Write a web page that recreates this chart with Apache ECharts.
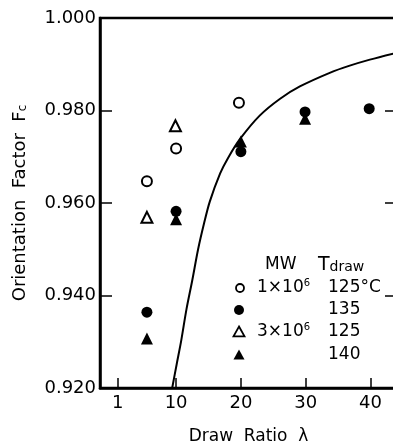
<!DOCTYPE html>
<html><head><meta charset="utf-8">
<script src="https://cdn.jsdelivr.net/npm/echarts@6/dist/echarts.min.js"></script>
<style>html,body{margin:0;padding:0;background:#fff}#c{width:393px;height:447px}</style>
</head><body><div id="c"></div>
<script>
// Data
const xTicks = [1, 10, 20, 30, 40];
const yTicks = [0.92, 0.94, 0.96, 0.98, 1.0];
const mw1e6_125 = [[5.5, 0.9647], [10, 0.9718], [19.7, 0.9817]];           // open circles
const mw1e6_135 = [[5.5, 0.9364], [10, 0.9582], [20, 0.9711], [29.9, 0.9797], [39.8, 0.9804]]; // filled circles
const mw3e6_125 = [[5.5, 0.9569], [9.9, 0.9767]];                          // open triangles
const mw3e6_140 = [[5.5, 0.9307], [10, 0.9565], [20, 0.9733], [29.9, 0.9782]]; // filled triangles
const curveX = [9.4, 10.1, 10.8, 11.6, 12.5, 13.4, 14.3, 15.2, 16.8, 18.0, 19.9, 22.9, 26.0, 29.1, 33.8, 36.8, 39.9, 43.5, 44.2];
const curveY = [0.920, 0.9252, 0.9303, 0.9370, 0.9433, 0.9500, 0.9555, 0.9603, 0.9664, 0.9697, 0.9739, 0.9789, 0.9825, 0.9852, 0.9882, 0.9897, 0.9910, 0.9923, 0.9925];

const FONT = 'DejaVu Sans';
const chart = echarts.init(document.getElementById('c'), null, {renderer: 'canvas'});
const ink = '#000';

function sym(x, y, type) {
  const open = type === 'circleOpen' || type === 'triOpen';
  const style = {fill: open ? '#fff' : ink, stroke: ink, lineWidth: open ? 1.8 : 0};
  if (type.startsWith('circle')) return {type: 'circle', shape: {cx: x, cy: y, r: open ? 4 : 5}, style};
  const h = 5.5;
  return {type: 'polygon', shape: {points: [[x, y - h], [x + h, y + h * 0.8], [x - h, y + h * 0.8]]}, style};
}
function txt(x, y, text, size, rich) {
  return {type: 'text', x: x, y: y, style: {text: text, fontFamily: FONT, fontSize: size, fill: ink, verticalAlign: 'middle', align: 'left', rich: rich || {}}};
}
const supRich = {n: {fontFamily: FONT, fontSize: 17, fill: ink}, s: {fontFamily: FONT, fontSize: 10, fill: ink, verticalAlign: 'top', padding: [0, 0, 10, 0]}};

chart.setOption({
  animation: false,
  backgroundColor: '#fff',
  grid: {left: 100, top: 18, width: 297, height: 370, outerBoundsMode: 'none', containLabel: false,
         show: true, borderColor: ink, borderWidth: 2.5, backgroundColor: 'transparent'},
  xAxis: {
    type: 'value', min: -1.74, max: 44.09,
    name: 'Draw  Ratio  λ', nameLocation: 'middle', nameGap: 40,
    nameTextStyle: {fontFamily: FONT, fontSize: 17, color: ink},
    axisLine: {show: true, onZero: false, lineStyle: {color: ink, width: 2.5}},
    axisTick: {show: true, inside: true, length: 10, lineStyle: {color: ink, width: 1.5}, customValues: xTicks},
    axisLabel: {fontFamily: FONT, fontSize: 18, color: ink, margin: 6, customValues: xTicks},
    splitLine: {show: false}
  },
  yAxis: [{
    type: 'value', min: 0.92, max: 1.0, interval: 0.02,
    name: 'Orientation  Factor  F{s|c}', nameLocation: 'middle', nameGap: 71, nameRotate: 90,
    nameTextStyle: {fontFamily: FONT, fontSize: 18, color: ink, rich: {s: {fontFamily: FONT, fontSize: 12, color: ink, verticalAlign: 'bottom'}}},
    axisLine: {show: true, onZero: false, lineStyle: {color: ink, width: 2.5}},
    axisTick: {show: true, inside: true, length: 12, lineStyle: {color: ink, width: 1.5}},
    axisLabel: {fontFamily: FONT, fontSize: 18, color: ink, margin: 4, formatter: v => v.toFixed(3)},
    splitLine: {show: false}
  }, {
    type: 'value', position: 'right', min: 0.92, max: 1.0, interval: 0.02,
    axisLine: {show: false, onZero: false},
    axisTick: {show: true, inside: true, length: 12, lineStyle: {color: ink, width: 1.5}},
    axisLabel: {show: false}, splitLine: {show: false}
  }],
  series: [
    {type: 'line', data: curveX.map((x, i) => [x, curveY[i]]), smooth: 0.3, symbol: 'none', clip: true,
     lineStyle: {color: ink, width: 2}},
    {type: 'scatter', data: mw1e6_125, symbol: 'circle', symbolSize: 10, itemStyle: {color: '#fff', borderColor: ink, borderWidth: 2, opacity: 1}},
    {type: 'scatter', data: mw3e6_125, symbol: 'triangle', symbolSize: 11, itemStyle: {color: '#fff', borderColor: ink, borderWidth: 2, opacity: 1}},
    {type: 'scatter', data: mw3e6_140, symbol: 'triangle', symbolSize: 12, itemStyle: {color: ink, opacity: 1}},
    {type: 'scatter', data: mw1e6_135, symbol: 'circle', symbolSize: 11, itemStyle: {color: ink, opacity: 1}}
  ],
  graphic: [
    txt(265, 265, 'MW', 17),
    txt(318, 265, '{t|T}{d|draw}', 17, {t: {fontFamily: FONT, fontSize: 19, fill: ink}, d: {fontFamily: FONT, fontSize: 14, fill: ink, verticalAlign: 'bottom'}}),
    sym(240, 288, 'circleOpen'),
    txt(257, 288, '{n|1×10}{s|6}', 17, supRich),
    txt(328, 288, '125°C', 17),
    sym(239, 310, 'circleFill'),
    txt(328, 310, '135', 17),
    sym(239, 332, 'triOpen'),
    txt(257, 332, '{n|3×10}{s|6}', 17, supRich),
    txt(328, 332, '125', 17),
    sym(239, 355, 'triFill'),
    txt(328, 355, '140', 17)
  ]
});
</script></body></html>
